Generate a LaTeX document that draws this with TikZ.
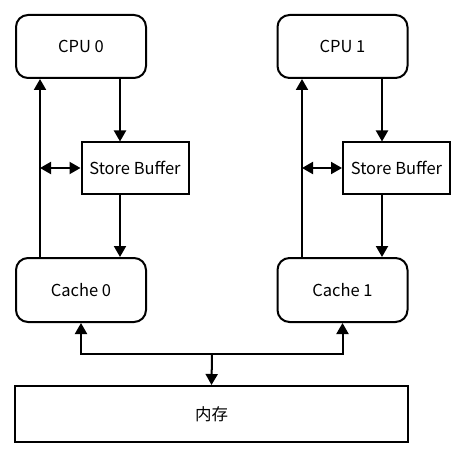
\documentclass[tikz,border=0pt]{standalone}
\usepackage{fontspec}
\setmainfont{Noto Sans CJK SC}
\usetikzlibrary{arrows.meta}

\begin{document}
\begin{tikzpicture}[x=1pt, y=-1pt, line width=2pt,
  >={Triangle[width=12pt,length=11pt]},
  unit/.style={draw, rounded corners=12pt, minimum width=130pt, minimum height=63pt, font=\fontsize{16.5}{20}\selectfont},
  buffer/.style={draw, rectangle, minimum width=107pt, minimum height=51pt, font=\fontsize{16.5}{20}\selectfont}]
\useasboundingbox (0,0) rectangle (465,457);

% CPU boxes
\node[unit] (cpu0) at (81,46.5) {CPU 0};
\node[unit] (cpu1) at (342.5,46.5) {CPU 1};

% Store buffers
\node[buffer] (sb0) at (135,168) {Store Buffer};
\node[buffer] (sb1) at (396.5,168) {Store Buffer};

% Caches
\node[unit, minimum height=64pt] (cache0) at (81,290) {Cache 0};
\node[unit, minimum height=64pt] (cache1) at (342.5,290) {Cache 1};

% Memory box
\node[draw, rectangle, minimum width=393pt, minimum height=56pt, font=\fontsize{16.5}{20}\selectfont] (mem) at (211.5,414) {内存};

% Line positions
\coordinate (down0) at (120,0);
\coordinate (up0) at (40,0);
\coordinate (down1) at (382,0);
\coordinate (up1) at (302,0);
\coordinate (bus) at (212,354);

% Arrows
\draw[->] (cpu0.south -| down0) -- (sb0.north -| down0);
\draw[->] (sb0.south -| down0) -- (cache0.north -| down0);
\draw[->] (cache0.north -| up0) -- (cpu0.south -| up0);
\draw[<->] (up0 |- sb0.west) -- (sb0.west);

\draw[->] (cpu1.south -| down1) -- (sb1.north -| down1);
\draw[->] (sb1.south -| down1) -- (cache1.north -| down1);
\draw[->] (cache1.north -| up1) -- (cpu1.south -| up1);
\draw[<->] (up1 |- sb1.west) -- (sb1.west);

\draw[<->] (cache0.south) |- (bus) -| (cache1.south);
\draw[->] (bus) -- (mem.north);
\end{tikzpicture}
\end{document}
